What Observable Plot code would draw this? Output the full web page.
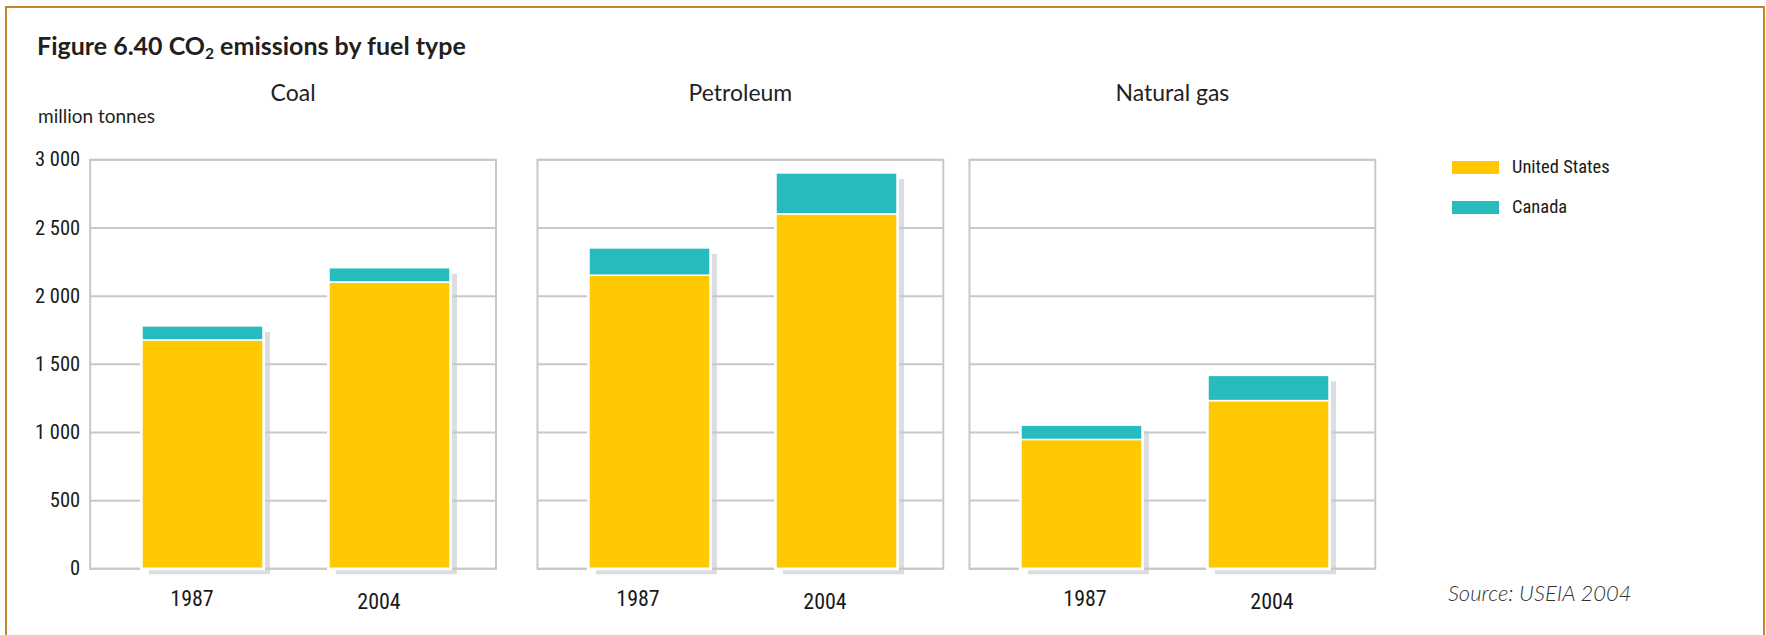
<!DOCTYPE html>
<html>
<head>
<meta charset="utf-8">
<script src="https://cdn.jsdelivr.net/npm/d3@7"></script>
<script src="https://cdn.jsdelivr.net/npm/@observablehq/plot@0.6"></script>
<style>
  body { margin: 0; background: #fff; width: 1766px; height: 635px; overflow: hidden; position: relative; font-family: Lato, "Open Sans", sans-serif; color: #231f20; }
  #frameBox { position: absolute; left: 5px; top: 6px; width: 1760px; height: 720px; border: 2px solid #c3862a; box-sizing: border-box; }
  .abs { position: absolute; white-space: nowrap; line-height: 1; }
  #title { left: 37px; top: 33px; font-size: 25px; font-weight: 700; }
  #title sub { font-size: 0.62em; vertical-align: -0.25em; line-height: 0; }
  #unit { left: 38px; top: 106px; font-size: 19px; }
  .sw { position: absolute; width: 47px; height: 13px; }
  .lg { position: absolute; font-family: Roboto, sans-serif; font-stretch: 75%; font-size: 18.5px; line-height: 1; color: #1a1a1a; }
  #source { left: 1448px; top: 582px; font-size: 22px; font-style: italic; font-weight: 300; color: #333; }
  .panel { position: absolute; top: 0; }
  .panel g[aria-label="y-axis tick label"],
  .panel g[aria-label="x-axis tick label"] { font-family: Roboto, sans-serif; font-stretch: 75%; }
</style>
</head>
<body>
<div id="frameBox"></div>
<div id="title" class="abs">Figure 6.40 CO<sub>2</sub> emissions by fuel type</div>
<div id="unit" class="abs">million tonnes</div>
<div id="legend"></div>
<div id="source" class="abs">Source: USEIA 2004</div>
<script>
// ---- data ----
const fuels = ["Coal", "Petroleum", "Natural gas"];
const years = ["1987", "2004"];
const countries = ["United States", "Canada"];
const unitedStates = [[1675, 2100], [2150, 2600], [945, 1230]];
const canada = [[103, 105], [200, 300], [105, 185]];
const yTicks = [0, 500, 1000, 1500, 2000, 2500, 3000];
const yTickLabels = ["0", "500", "1 000", "1 500", "2 000", "2 500", "3 000"];
const colors = ["#ffc800", "#26bcbd"];

// ---- layout (not data) ----
const panelLayout = [
  {left: 0, marginLeft: 89.7, labelDx: -11},
  {left: 516.7, marginLeft: 20, labelDx: -12},
  {left: 949, marginLeft: 20, labelDx: 3}
];
const panelWidth = 405.8;

const rows = [];
fuels.forEach((fuel, i) => {
  years.forEach((year, j) => {
    rows.push({fuel, year, country: countries[0], value: unitedStates[i][j]});
    rows.push({fuel, year, country: countries[1], value: canada[i][j]});
  });
});

fuels.forEach((fuel, i) => {
  const L = panelLayout[i];
  const data = rows.filter(d => d.fuel === fuel);
  const totals = years.map(year => ({year, total: d3.sum(data.filter(d => d.year === year), d => d.value)}));
  const marks = [
    Plot.barY(totals, {x: "year", y: "total", fill: "#dcdde0", dx: 7, dy: 6}),
    Plot.gridY(yTicks, {stroke: "#c8c8c8", strokeOpacity: 1, strokeWidth: 2}),
    Plot.frame({stroke: "#c8c8c8", strokeWidth: 2}),
    Plot.barY(totals, {x: "year", y: "total", fill: "white", inset: -2}),
    Plot.barY(data, {x: "year", y: "value", fill: "country", stroke: "white", strokeWidth: 1.5}),
    Plot.axisX([years[0]], {tickSize: 0, tickPadding: 22, dx: L.labelDx, fontSize: 22, label: null}),
    Plot.axisX([years[1]], {tickSize: 0, tickPadding: 25, dx: L.labelDx, fontSize: 22, label: null}),
    Plot.text([fuel], {frameAnchor: "top", dy: -75, text: d => d, fontSize: 23, fontFamily: "Lato, 'Open Sans', sans-serif", fill: "#231f20"})
  ];
  if (i === 0) {
    marks.push(Plot.axisY(yTicks, {tickSize: 0, tickPadding: 10, fontSize: 20.5, label: null,
      tickFormat: d => yTickLabels[yTicks.indexOf(d)]}));
  }
  const chart = Plot.plot({
    width: L.marginLeft + panelWidth + 10,
    height: 635,
    marginTop: 159.3,
    marginBottom: 66.7,
    marginLeft: L.marginLeft,
    marginRight: 10,
    x: {domain: years, paddingInner: 0.355, paddingOuter: 0.262, align: 0.53},
    y: {domain: [0, 3000], axis: i === 0 ? undefined : null},
    color: {domain: countries, range: colors},
    style: {background: "transparent", overflow: "visible", color: "#1a1a1a"},
    marks
  });
  chart.classList.add("panel");
  chart.style.left = L.left + "px";
  document.body.appendChild(chart);
});

// legend
const legend = document.getElementById("legend");
const legendTop = [160.5, 201];
countries.forEach((c, k) => {
  const sw = document.createElement("div");
  sw.className = "sw";
  sw.style.left = "1452px";
  sw.style.top = legendTop[k] + "px";
  sw.style.background = colors[k];
  legend.appendChild(sw);
  const t = document.createElement("div");
  t.className = "lg";
  t.style.left = "1512px";
  t.style.top = (legendTop[k] - 3) + "px";
  t.textContent = c;
  legend.appendChild(t);
});
</script>
</body>
</html>
